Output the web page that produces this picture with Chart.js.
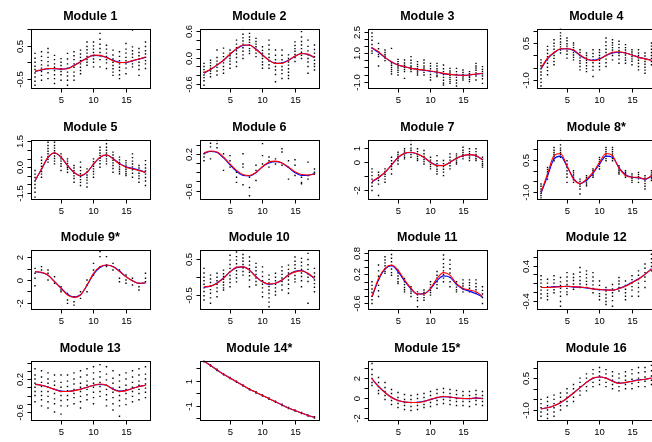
<!DOCTYPE html>
<html><head><meta charset="utf-8">
<script src="https://cdn.jsdelivr.net/npm/chart.js@4/dist/chart.umd.min.js"></script>
<style>
html,body{margin:0;padding:0;background:#fff;overflow:hidden;}
#wrap{position:relative;width:652px;height:442px;overflow:hidden;background:#fff;}
#wrap canvas{position:absolute;}
</style></head><body><div id="wrap"></div>
<script>
// ---------- data ----------
const xValues = [1,2,3,4,5,6,7,8,9,10,11,12,13,14,15,16,17,18];
const xTicks = [5,10,15];
const titles = ["Module 1","Module 2","Module 3","Module 4","Module 5","Module 6","Module 7","Module 8*",
  "Module 9*","Module 10","Module 11","Module 12","Module 13","Module 14*","Module 15*","Module 16"];

const yLimits = [[-0.77,1.03],[-0.67,0.65],[-1.41,2.72],[-1.31,1.1],[-1.81,1.6],[-0.77,0.51],[-2.57,1.61],[-1.29,1.45],
  [-2.51,2.69],[-0.88,0.78],[-0.74,0.89],[-0.58,0.77],[-0.78,0.65],[-2.12,2.6],[-2.2,3.7],[-1.45,1.33]];

const yTicks = [[-0.5,0,0.5,1],[-0.6,-0.4,-0.2,0,0.2,0.4,0.6],[-1,-0.5,0,0.5,1,1.5,2,2.5],[-1,-0.5,0,0.5,1],
  [-1.5,-1,-0.5,0,0.5,1,1.5],[-0.6,-0.4,-0.2,0,0.2,0.4],[-2,-1,0,1],[-1,-0.5,0,0.5,1],
  [-2,-1,0,1,2],[-0.5,0,0.5],[-0.6,-0.4,-0.2,0,0.2,0.4,0.6,0.8],[-0.4,-0.2,0,0.2,0.4,0.6],
  [-0.6,-0.4,-0.2,0,0.2,0.4,0.6],[-2,-1,0,1,2],[-2,-1,0,1,2,3],[-1,-0.5,0,0.5,1]];
const yTickLabels = [["-0.5","","0.5",""],["-0.6","","","0.0","","","0.6"],["-1.0","","","","1.0","","","2.5"],["-1.0","","","0.5",""],
  ["-1.5","","","0.0","","","1.5"],["-0.6","","","","0.2",""],["-2","","0","1"],["-1.0","","","0.5",""],
  ["-2","","0","","2"],["-0.5","","0.5"],["-0.6","","","","0.2","","","0.8"],["-0.4","","","","0.4",""],
  ["-0.6","","","","0.2","",""],["","-1","","1",""],["-2","","0","","2",""],["-1.0","","","0.5",""]];

// module 1
const m1Pts = [[0.27,0.12,0.0,-0.12,-0.22,-0.33,-0.45,-0.58,-0.70],[0.32,0.18,0.05,-0.08,-0.18,-0.28,-0.4,-0.55],[0.42,0.3,0.15,0.02,-0.1,-0.2,-0.32,-0.5],
 [0.21,0.08,-0.05,-0.15,-0.25,-0.38,-0.5,-0.65],[0.11,0.0,-0.1,-0.2,-0.28,-0.38,-0.55],[0.27,0.1,-0.05,-0.18,-0.3,-0.42,-0.55,-0.7],
 [0.32,0.2,0.08,-0.05,-0.15,-0.3,-0.42,-0.55],[0.37,0.25,0.15,0.05,-0.05,-0.15,-0.25,-0.35],[0.62,0.48,0.38,0.28,0.18,0.08,0.0,-0.09],
 [0.62,0.5,0.4,0.3,0.2,0.1,0.0,-0.14],[0.88,0.7,0.55,0.42,0.3,0.2,0.08,-0.14],[0.52,0.4,0.28,0.18,0.08,-0.02,-0.19],
 [0.37,0.22,0.1,0.0,-0.1,-0.2,-0.3,-0.4],[0.32,0.18,0.05,-0.05,-0.15,-0.25,-0.38,-0.5],[0.57,0.4,0.28,0.15,0.05,-0.05,-0.18,-0.35],
 [0.98,0.47,0.35,0.25,0.15,0.05,-0.05,-0.14],[0.42,0.3,0.2,0.1,0.0,-0.1,-0.22,-0.4],[0.62,0.48,0.35,0.25,0.15,0.05,-0.05,-0.19]];
const m1Red = [-0.27,-0.23,-0.19,-0.19,-0.21,-0.2,-0.1,0.01,0.13,0.22,0.21,0.14,0.05,-0.01,0.0,0.05,0.1,0.16];
const m1Blue = [-0.28,-0.24,-0.2,-0.2,-0.21,-0.19,-0.1,0.02,0.13,0.21,0.2,0.15,0.06,0.0,-0.01,0.04,0.1,0.15];

// module 2
const m2Pts = [[-0.13,-0.2,-0.27,-0.33,-0.39,-0.45,-0.52,-0.62],[-0.06,-0.12,-0.18,-0.24,-0.3,-0.36,-0.43],[0.17,0.0,-0.08,-0.15,-0.22,-0.3,-0.39],
 [0.21,0.1,0.02,-0.06,-0.12,-0.2,-0.27,-0.35],[0.17,0.1,0.04,-0.02,-0.08,-0.15,-0.24],[0.39,0.3,0.22,0.15,0.08,0.0,-0.1,-0.2],
 [0.63,0.52,0.44,0.37,0.3,0.22,0.14,0.06,-0.02],[0.54,0.46,0.4,0.34,0.28,0.2,0.15,0.09],[0.43,0.36,0.3,0.24,0.17,0.1,0.02],
 [0.24,0.16,0.1,0.04,-0.02,-0.1,-0.16,-0.24],[0.39,0.28,0.18,0.08,0.0,-0.08,-0.16,-0.24],[0.17,0.05,-0.05,-0.12,-0.2,-0.28,-0.38,-0.54],
 [0.17,0.05,-0.05,-0.12,-0.2,-0.28,-0.36,-0.47],[0.06,-0.02,-0.1,-0.17,-0.25,-0.33,-0.4,-0.47],[0.35,0.27,0.2,0.14,0.07,0.0,-0.09],
 [0.58,0.46,0.36,0.28,0.2,0.12,0.05,-0.02],[0.39,0.25,0.15,0.06,-0.02,-0.1,-0.2,-0.35],[0.28,0.18,0.1,0.02,-0.06,-0.14,-0.2,-0.28]];
const m2Red = [-0.34,-0.26,-0.17,-0.06,0.08,0.2,0.28,0.28,0.18,0.06,-0.06,-0.13,-0.13,-0.06,0.03,0.09,0.08,0.0];
const m2Blue = [-0.35,-0.27,-0.17,-0.06,0.07,0.19,0.27,0.28,0.19,0.06,-0.06,-0.13,-0.12,-0.06,0.03,0.09,0.07,0.0];

// module 3
const m3Pts = [[2.66,2.4,2.15,1.9,1.6,1.35,1.15,0.98],[1.68,1.3,1.1,0.9,0.75,0.1],[1.21,1.05,0.9,0.78,0.65,0.47],
 [1.33,0.3,0.15,0.0,-0.15,-0.3,-0.46],[0.56,0.4,0.25,0.1,-0.05,-0.2,-0.35,-0.53],[0.52,0.3,0.15,0.0,-0.15,-0.3,-0.77],
 [0.75,0.5,0.3,0.1,0.0,-0.15,-0.3],[0.4,0.2,0.05,-0.1,-0.25,-0.4,-0.53],[0.52,0.3,0.1,-0.05,-0.2,-0.35,-0.53],
 [0.28,0.1,-0.1,-0.3,-0.5,-0.7,-0.88],[0.28,0.1,-0.1,-0.25,-0.4,-0.55,-0.65],[0.17,-0.1,-0.3,-0.5,-0.7,-0.9,-1.1,-1.23],
 [-0.07,-0.25,-0.4,-0.55,-0.7,-0.85,-1.0,-1.12],[-0.07,-0.3,-0.5,-0.7,-0.9,-1.1,-1.3],[-0.18,-0.35,-0.5,-0.6,-0.75,-0.88],
 [-0.3,-0.45,-0.6,-0.7,-0.85,-1.0],[0.28,0.1,-0.05,-0.2,-0.4,-0.6,-0.88],[0.05,-0.15,-0.3,-0.45,-0.6,-0.8,-1.12]];
const m3Red = [1.38,1.1,0.7,0.4,0.17,0.05,-0.07,-0.14,-0.18,-0.25,-0.32,-0.42,-0.49,-0.53,-0.56,-0.53,-0.46,-0.42];
const m3Blue = [1.35,1.05,0.68,0.38,0.16,0.04,-0.06,-0.14,-0.2,-0.27,-0.34,-0.44,-0.5,-0.54,-0.56,-0.54,-0.48,-0.43];

// module 4
const m4Pts = [[-0.18,-0.3,-0.42,-0.55,-0.68,-0.8,-0.95,-1.1,-1.25],[0.37,0.22,0.08,-0.05,-0.18,-0.32,-0.48,-0.62,-0.79],
 [0.64,0.5,0.38,0.25,0.12,0.0,-0.12,-0.25,-0.38],[1.08,0.92,0.8,0.68,0.55,0.45,0.35,0.22,0.1],[0.71,0.6,0.48,0.38,0.28,0.18,0.05,-0.11],
 [0.51,0.42,0.32,0.22,0.12,0.02,-0.08,-0.18],[0.23,0.12,0.0,-0.1,-0.22,-0.32,-0.45,-0.59],[0.1,0.0,-0.1,-0.2,-0.3,-0.42,-0.54,-0.66],
 [0.23,0.08,-0.05,-0.18,-0.3,-0.45,-0.6,-0.86],[0.23,0.12,0.0,-0.1,-0.2,-0.32,-0.45,-0.59],[0.71,0.55,0.4,0.25,0.12,0.0,-0.15,-0.3,-0.45],
 [0.64,0.52,0.42,0.32,0.22,0.12,0.0,-0.18],[0.58,0.45,0.32,0.2,0.1,0.0,-0.15,-0.32],[0.44,0.32,0.22,0.12,0.02,-0.1,-0.2,-0.32],
 [0.23,0.14,0.05,-0.05,-0.14,-0.24,-0.38],[0.23,0.1,0.0,-0.1,-0.2,-0.32,-0.45,-0.59],[0.1,-0.02,-0.14,-0.25,-0.36,-0.48,-0.6,-0.73],
 [0.51,0.38,0.25,0.12,0.0,-0.12,-0.25,-0.38]];
const m4Red = [-0.52,-0.11,0.12,0.27,0.27,0.22,0.02,-0.15,-0.22,-0.16,0.0,0.13,0.15,0.1,0.02,-0.08,-0.14,-0.2];
const m4Blue = [-0.55,-0.14,0.1,0.26,0.27,0.2,0.0,-0.15,-0.2,-0.14,0.0,0.1,0.13,0.1,0.02,-0.07,-0.13,-0.2];

// module 5
const m5Pts = [[-0.19,-0.4,-0.6,-0.8,-1.0,-1.2,-1.45,-1.73],[0.58,0.4,0.22,0.05,-0.1,-0.25,-0.4,-0.58],[1.44,1.25,1.08,0.92,0.78,0.62,0.45,0.29],
 [1.44,1.25,1.1,0.95,0.8,0.65,0.5,0.35,0.19],[0.77,0.62,0.48,0.35,0.2,0.05,-0.19],[0.48,0.35,0.22,0.1,0.0,-0.12,-0.29],
 [0.1,-0.05,-0.2,-0.35,-0.5,-0.65,-0.87],[0.29,0.0,-0.2,-0.38,-0.55,-0.72,-0.88,-1.06],[-0.1,-0.28,-0.45,-0.6,-0.75,-0.92,-1.15],
 [0.48,0.32,0.18,0.05,-0.1,-0.25,-0.4,-0.58],[1.15,0.98,0.82,0.68,0.52,0.38,0.2,0.0],[1.58,1.35,1.15,0.98,0.82,0.65,0.48,0.35,0.19],
 [0.87,0.7,0.55,0.4,0.25,0.1,-0.08,-0.29],[0.58,0.42,0.28,0.15,0.02,-0.12,-0.25,-0.38],[0.38,0.25,0.12,0.0,-0.12,-0.25,-0.38,-0.48],
 [0.77,0.55,0.35,0.18,0.02,-0.15,-0.35,-0.58],[0.1,-0.05,-0.2,-0.35,-0.5,-0.65,-0.87],[0.38,0.15,-0.05,-0.22,-0.4,-0.6,-0.8,-1.06]];
const m5Red = [-0.77,-0.1,0.58,0.83,0.58,0.1,-0.29,-0.48,-0.29,0.19,0.58,0.71,0.48,0.19,0.0,-0.1,-0.19,-0.29];
const m5Blue = [-0.8,-0.12,0.55,0.82,0.58,0.1,-0.3,-0.5,-0.3,0.17,0.55,0.7,0.5,0.22,0.02,-0.06,-0.17,-0.3];

// module 6
const m6Pts = [[0.2,0.13,0.05],[0.43,0.35,0.09],[0.49,0.42,0.33],[0.2,-0.16],[0.16,0.05,-0.09],[-0.2,-0.31,-0.42],
 [0.2,-0.02,-0.09,-0.47],[-0.31,-0.53,-0.71],[-0.05,-0.16,-0.38],[0.42,0.16,-0.02],[0.13,0.05,-0.09],[0.09,-0.02],
 [0.31,0.24,-0.05],[0.05,-0.09,-0.35],[0.07,-0.05,-0.27],[-0.31,-0.42,-0.45],[0.02,-0.27,-0.35],[-0.13,-0.2,-0.24]];
const m6Red = [0.22,0.26,0.24,0.13,-0.02,-0.16,-0.25,-0.27,-0.2,-0.08,0.02,0.04,0.0,-0.09,-0.19,-0.25,-0.26,-0.24];
const m6Blue = [0.2,0.25,0.23,0.11,-0.04,-0.18,-0.27,-0.28,-0.21,-0.08,0.0,0.03,0.0,-0.1,-0.21,-0.27,-0.27,-0.23];

// module 7
const m7Pts = [[-0.47,-0.7,-0.95,-1.2,-1.45,-1.7,-2.0],[-0.71,-0.9,-1.1,-1.3,-1.55,-2.36],[-0.47,-0.65,-0.85,-1.0,-1.2,-1.42],
 [0.35,0.1,-0.1,-0.3,-0.5,-0.83],[0.71,0.55,0.4,0.25,0.1,-0.12],[0.95,0.8,0.65,0.5,0.35,0.24],
 [1.54,1.25,1.0,0.85,0.7,0.55,0.35],[0.95,0.75,0.55,0.4,0.25,0.12],[0.83,0.6,0.4,0.2,0.05,-0.12],
 [0.35,0.15,0.0,-0.15,-0.3,-0.47],[0.47,0.1,-0.1,-0.3,-0.5,-0.65,-0.83],[0.12,-0.1,-0.3,-0.5,-0.7,-0.95],
 [0.59,0.35,0.15,-0.05,-0.25,-0.47],[0.59,0.45,0.3,0.15,0.0,-0.12],[1.06,0.85,0.7,0.55,0.4,0.24],
 [0.95,0.75,0.6,0.45,0.3,0.12],[0.95,0.75,0.55,0.4,0.25,0.12],[0.35,0.2,0.05,-0.1,-0.22,-0.35]];
const m7Red = [-1.35,-1.06,-0.71,-0.19,0.35,0.64,0.71,0.59,0.35,0.0,-0.24,-0.24,0.0,0.28,0.47,0.54,0.47,0.17];
const m7Blue = [-1.4,-1.1,-0.72,-0.2,0.33,0.62,0.69,0.58,0.33,0.0,-0.22,-0.23,0.0,0.27,0.46,0.53,0.46,0.18];

// module 8*
const m8Pts = [[-0.62,-0.72,-0.85,-0.95,-1.05,-1.15,-1.27],[0.15,0.05,-0.05,-0.15,-0.25,-0.39],[1.08,0.95,0.85,0.75,0.65,0.55,0.46],
 [1.42,1.2,1.05,0.95,0.85,0.75,0.62],[0.46,0.3,0.15,0.0,-0.15,-0.3,-0.54],[0.0,-0.1,-0.2,-0.3,-0.42,-0.54],
 [-0.39,-0.5,-0.62,-0.72,-0.85,-1.08],[-0.23,-0.33,-0.43,-0.53,-0.62,-0.7],[0.08,0.0,-0.08,-0.16,-0.23,-0.31],
 [0.62,0.52,0.42,0.32,0.2,0.08],[1.08,0.98,0.88,0.78,0.68,0.56,0.46],[1.08,0.98,0.88,0.78,0.68,0.56,0.46],
 [0.23,0.15,0.08,0.0,-0.08,-0.15],[0.0,-0.08,-0.15,-0.23,-0.31],[-0.15,-0.25,-0.35,-0.45,-0.54],
 [-0.08,-0.18,-0.28,-0.38,-0.54],[-0.23,-0.35,-0.48,-0.6,-0.72,-0.85],[0.0,-0.1,-0.2,-0.3,-0.38,-0.46]];
const m8Red = [-1.0,-0.15,0.7,0.8,0.23,-0.39,-0.59,-0.39,-0.08,0.39,0.8,0.7,0.12,-0.22,-0.3,-0.3,-0.39,-0.23];
const m8Blue = [-1.05,-0.25,0.55,0.68,0.2,-0.35,-0.6,-0.45,-0.12,0.3,0.68,0.62,0.15,-0.18,-0.3,-0.33,-0.4,-0.25];

// module 9*
const m9Pts = [[1.03,0.59,0.15,-0.5],[1.18,0.88,0.65],[0.88,0.59,0.0],[0.29,-0.29],[-0.59,-0.88,-1.03],[-1.18,-1.76,-2.06],
 [-1.47,-1.91,-2.21],[-1.03,-1.62],[0.0,-0.44,-1.03],[1.47,0.88,0.44],[2.5,2.06,1.18],[2.06,1.32,1.18],
 [1.47,1.18,0.88],[0.88,0.15,-0.15],[0.44,0.0,-0.29],[0.15,-0.44],[-0.29,-0.59,-0.88],[0.59,0.15,-0.15]];
const m9Red = [0.74,0.68,0.44,-0.15,-0.74,-1.32,-1.53,-1.32,-0.44,0.59,1.18,1.32,1.18,0.74,0.29,-0.09,-0.29,-0.24];
const m9Blue = [0.72,0.66,0.42,-0.12,-0.7,-1.25,-1.5,-1.3,-0.48,0.5,1.1,1.3,1.2,0.8,0.3,-0.05,-0.3,-0.25];

// module 10
const m10Pts = [[0.25,0.12,0.0,-0.1,-0.2,-0.3,-0.4,-0.52,-0.64],[0.06,-0.05,-0.15,-0.25,-0.35,-0.45,-0.58,-0.73],[0.11,0.0,-0.1,-0.2,-0.3,-0.4,-0.55],
 [0.2,0.1,0.02,-0.06,-0.14,-0.22,-0.3,-0.36],[0.62,0.48,0.36,0.25,0.15,0.05,-0.05,-0.15,-0.27],[0.71,0.58,0.48,0.38,0.28,0.18,0.08,-0.02,-0.13],
 [0.76,0.64,0.54,0.45,0.36,0.26,0.16,0.06],[0.57,0.45,0.34,0.24,0.14,0.04,-0.08,-0.27],[0.39,0.28,0.18,0.08,-0.02,-0.12,-0.22],
 [0.29,0.15,0.02,-0.1,-0.2,-0.3,-0.42,-0.55],[0.06,-0.06,-0.16,-0.26,-0.36,-0.46,-0.58,-0.7,-0.83],[0.11,0.0,-0.1,-0.2,-0.3,-0.4,-0.5],
 [0.29,0.18,0.08,-0.02,-0.12,-0.22,-0.36],[0.34,0.22,0.12,0.02,-0.08,-0.2,-0.32,-0.45],[0.57,0.45,0.35,0.25,0.15,0.05,-0.05,-0.13],
 [0.53,0.42,0.32,0.22,0.12,0.02,-0.1,-0.27],[0.67,0.5,0.35,0.22,0.1,0.0,-0.12,-0.73],[0.25,0.12,0.02,-0.08,-0.18,-0.28,-0.41]];
const m10Red = [-0.27,-0.25,-0.17,-0.03,0.15,0.28,0.29,0.2,0.01,-0.13,-0.19,-0.17,-0.08,0.06,0.15,0.18,0.11,-0.03];
const m10Blue = [-0.28,-0.25,-0.16,-0.02,0.15,0.27,0.29,0.2,0.02,-0.13,-0.2,-0.17,-0.08,0.07,0.17,0.19,0.1,-0.03];

// module 11
const m11Pts = [[0.0,-0.1,-0.2,-0.3,-0.4,-0.5,-0.6],[0.46,0.3,0.15,0.05,-0.1,-0.25,-0.41],[0.69,0.6,0.52,0.44,0.36,0.28,0.23],
 [0.87,0.75,0.65,0.55,0.45,0.35,0.25,0.18],[0.32,0.24,0.16,0.08,0.0,-0.05],[0.09,0.0,-0.08,-0.16,-0.22,-0.28],
 [-0.14,-0.2,-0.26,-0.32,-0.41],[-0.28,-0.36,-0.44,-0.52,-0.69],[-0.23,-0.3,-0.37,-0.44,-0.51],
 [0.0,-0.08,-0.16,-0.24,-0.3,-0.37],[0.28,0.18,0.1,0.0,-0.08,-0.18],[0.74,0.62,0.5,0.4,0.3,0.2,0.1,0.0],
 [0.6,0.48,0.36,0.24,0.12,0.0,-0.14],[0.0,-0.08,-0.15,-0.22,-0.28],[0.05,-0.05,-0.12,-0.2,-0.28],
 [0.05,-0.03,-0.1,-0.18,-0.28],[0.05,-0.05,-0.14,-0.22,-0.32],[-0.14,-0.24,-0.34,-0.44,-0.6]];
const m11Red = [-0.41,0.09,0.37,0.46,0.32,0.05,-0.18,-0.34,-0.34,-0.18,0.09,0.25,0.18,-0.05,-0.18,-0.23,-0.28,-0.4];
const m11Blue = [-0.42,0.05,0.35,0.44,0.28,0.02,-0.2,-0.34,-0.33,-0.2,0.03,0.16,0.12,-0.07,-0.2,-0.26,-0.33,-0.42];

// module 12
const m12Pts = [[0.17,0.08,0.0,-0.08,-0.16,-0.25,-0.34],[0.09,0.0,-0.08,-0.16,-0.24,-0.3,-0.38],[0.17,0.08,0.0,-0.08,-0.15,-0.22],
 [0.13,0.03,-0.05,-0.12,-0.2,-0.3,-0.42,-0.53],[0.24,0.14,0.05,-0.03,-0.12,-0.2,-0.26],[0.21,0.13,0.06,-0.02,-0.08,-0.14],
 [0.36,0.25,0.15,0.06,-0.02,-0.1],[0.28,0.2,0.12,0.04,-0.03,-0.1],[0.24,0.14,0.05,-0.04,-0.12,-0.22],
 [0.05,-0.05,-0.15,-0.24,-0.3,-0.38],[-0.1,-0.18,-0.26,-0.34,-0.42,-0.49],[-0.03,-0.13,-0.22,-0.3,-0.4,-0.53],
 [0.13,0.05,-0.02,-0.1,-0.18],[0.05,-0.05,-0.14,-0.22,-0.3,-0.38],[0.17,0.08,0.0,-0.08,-0.16,-0.3],
 [0.28,0.18,0.08,0.0,-0.1,-0.2,-0.3],[0.44,0.34,0.24,0.14,0.04,-0.1],[0.75,0.66,0.56,0.47,0.38,0.28]];
const m12Red = [-0.1,-0.1,-0.09,-0.08,-0.07,-0.08,-0.09,-0.1,-0.13,-0.14,-0.16,-0.16,-0.13,-0.07,0.01,0.09,0.2,0.32];
const m12Blue = [-0.1,-0.1,-0.08,-0.08,-0.07,-0.09,-0.09,-0.11,-0.13,-0.15,-0.15,-0.16,-0.12,-0.06,0.02,0.1,0.2,0.33];

// module 13
const m13Pts = [[0.45,0.3,0.2,0.1,0.0,-0.1,-0.2,-0.35],[0.4,0.25,0.12,0.02,-0.1,-0.2,-0.3,-0.45],[0.35,0.2,0.1,0.0,-0.1,-0.22,-0.35,-0.5],
 [0.3,0.15,0.05,-0.05,-0.15,-0.28,-0.4,-0.6],[0.3,0.12,0.0,-0.1,-0.2,-0.32,-0.45,-0.65],[0.3,0.15,0.02,-0.08,-0.2,-0.3,-0.45],
 [0.35,0.2,0.08,-0.05,-0.15,-0.25,-0.4],[0.4,0.25,0.1,0.0,-0.1,-0.22,-0.35,-0.5],[0.45,0.3,0.15,0.05,-0.05,-0.18,-0.3],
 [0.5,0.35,0.2,0.1,0.0,-0.12,-0.25,-0.4],[0.55,0.38,0.25,0.12,0.02,-0.1,-0.22],[0.5,0.32,0.18,0.05,-0.05,-0.18,-0.3,-0.45],
 [0.4,0.22,0.1,-0.02,-0.12,-0.25,-0.4,-0.55],[0.3,0.15,0.0,-0.1,-0.2,-0.32,-0.45,-0.7],[0.35,0.2,0.05,-0.05,-0.15,-0.28,-0.42],
 [0.4,0.25,0.12,0.0,-0.1,-0.22,-0.35],[0.45,0.3,0.15,0.05,-0.05,-0.15,-0.3],[0.5,0.32,0.2,0.08,-0.02,-0.12,-0.25]];
const m13Red = [0.08,0.05,0.0,-0.05,-0.1,-0.1,-0.08,-0.05,0.0,0.05,0.08,0.05,-0.05,-0.1,-0.08,-0.03,0.02,0.05];
const m13Blue = [0.07,0.05,0.01,-0.05,-0.09,-0.1,-0.08,-0.04,0.0,0.05,0.07,0.05,-0.04,-0.09,-0.08,-0.03,0.02,0.05];

// module 14*
const m14Pts = [[2.6,2.5],[2.25,2.15],[1.9,1.8],[1.55,1.45],[1.25,1.15],[0.95,0.85],[0.65,0.55],[0.35,0.25],[0.1,0.0],
 [-0.15,-0.25],[-0.4,-0.5],[-0.65,-0.75],[-0.9,-1.0],[-1.15,-1.25],[-1.35,-1.45],[-1.55,-1.65],[-1.75,-1.85],[-1.9,-2.0]];
const m14Red = [2.55,2.2,1.85,1.5,1.2,0.9,0.6,0.3,0.05,-0.2,-0.45,-0.7,-0.95,-1.2,-1.4,-1.6,-1.8,-1.95];
const m14Blue = [2.55,2.2,1.84,1.5,1.2,0.9,0.6,0.3,0.05,-0.2,-0.45,-0.7,-0.95,-1.2,-1.4,-1.6,-1.8,-1.95];

// module 15*
const m15Pts = [[3.4,2.8,2.3,1.9,1.5,1.2],[2.0,1.5,1.1,0.7,0.4],[1.5,1.0,0.6,0.2,-0.2],[0.8,0.4,0.0,-0.3,-0.7],[0.5,0.0,-0.3,-0.6,-1.0],
 [0.3,-0.2,-0.5,-0.8,-1.2],[0.2,-0.2,-0.5,-0.9,-1.3],[0.3,-0.1,-0.5,-0.8,-1.2],[0.4,0.0,-0.4,-0.7,-1.0],[0.6,0.2,-0.2,-0.5,-0.9],
 [0.8,0.4,0.0,-0.3,-0.7],[0.9,0.5,0.1,-0.2,-0.6],[0.8,0.4,0.0,-0.3,-0.7],[0.7,0.3,-0.1,-0.4,-0.8],[0.6,0.2,-0.1,-0.4,-0.8],
 [0.6,0.2,-0.1,-0.4,-0.9],[0.7,0.3,0.0,-0.3,-0.7],[0.6,0.2,-0.1,-0.4,-0.8]];
const m15Red = [1.9,1.1,0.5,0.0,-0.3,-0.45,-0.5,-0.5,-0.4,-0.2,0.0,0.1,0.05,-0.05,-0.1,-0.1,-0.05,-0.1];
const m15Blue = [1.85,1.1,0.5,0.02,-0.3,-0.45,-0.5,-0.48,-0.38,-0.2,-0.02,0.08,0.05,-0.05,-0.1,-0.12,-0.06,-0.1];

// module 16
const m16Pts = [[-0.5,-0.7,-0.9,-1.1,-1.3],[-0.4,-0.6,-0.8,-1.0,-1.2,-1.4],[-0.3,-0.5,-0.7,-0.9,-1.1,-1.3],[-0.2,-0.4,-0.6,-0.8,-1.0],
 [0.0,-0.2,-0.4,-0.6,-0.8],[0.2,0.0,-0.2,-0.4,-0.6],[0.5,0.3,0.1,-0.1,-0.3],[0.7,0.5,0.3,0.1,-0.1],[0.9,0.7,0.5,0.3,0.1],
 [1.0,0.8,0.6,0.4,0.2],[0.9,0.7,0.5,0.3,0.1],[0.8,0.6,0.4,0.2,0.0],[0.7,0.5,0.3,0.1,-0.1],[0.8,0.6,0.4,0.2,0.0],
 [0.9,0.7,0.45,0.25,0.0],[1.0,0.75,0.5,0.3,0.1],[1.0,0.8,0.55,0.35,0.1],[1.1,0.85,0.6,0.4,0.2]];
const m16Red = [-0.95,-0.9,-0.8,-0.65,-0.45,-0.2,0.05,0.3,0.5,0.55,0.5,0.35,0.25,0.3,0.35,0.4,0.45,0.5];
const m16Blue = [-0.95,-0.9,-0.8,-0.66,-0.45,-0.2,0.05,0.3,0.48,0.55,0.5,0.36,0.26,0.28,0.35,0.42,0.45,0.5];

const pointSets = [m1Pts,m2Pts,m3Pts,m4Pts,m5Pts,m6Pts,m7Pts,m8Pts,m9Pts,m10Pts,m11Pts,m12Pts,m13Pts,m14Pts,m15Pts,m16Pts];
const redSets = [m1Red,m2Red,m3Red,m4Red,m5Red,m6Red,m7Red,m8Red,m9Red,m10Red,m11Red,m12Red,m13Red,m14Red,m15Red,m16Red];
const blueSets = [m1Blue,m2Blue,m3Blue,m4Blue,m5Blue,m6Blue,m7Blue,m8Blue,m9Blue,m10Blue,m11Blue,m12Blue,m13Blue,m14Blue,m15Blue,m16Blue];

// ---------- drawing ----------
const FONT = "'Liberation Sans', Arial, Helvetica, sans-serif";
const CW = 169, CH = 111;
const wrap = document.getElementById('wrap');

function rAxesPlugin(idx) {
  return {
    id: 'rAxes' + idx,
    afterDraw(chart) {
      const ctx = chart.ctx, a = chart.chartArea;
      const xs = chart.scales.x, ys = chart.scales.y;
      ctx.save();
      ctx.strokeStyle = '#000';
      ctx.fillStyle = '#000';
      ctx.lineWidth = 1;
      const L = Math.round(a.left) + 0.5, R = Math.round(a.right) + 0.5;
      const T = Math.round(a.top) + 0.5, B = Math.round(a.bottom) + 0.5;
      ctx.strokeRect(L, T, R - L, B - T);
      ctx.beginPath();
      const xp = xTicks.map(v => Math.round(xs.getPixelForValue(v)) + 0.5);
      ctx.moveTo(xp[0], B); ctx.lineTo(xp[xp.length - 1], B);
      xp.forEach(p => { ctx.moveTo(p, B); ctx.lineTo(p, B + 4); });
      ctx.stroke();
      ctx.font = '9.5px ' + FONT;
      ctx.textAlign = 'center';
      ctx.textBaseline = 'middle';
      xTicks.forEach((v, i) => ctx.fillText(String(v), xp[i], B + 11.5));
      const lim = yLimits[idx];
      const ticks = yTicks[idx], labs = yTickLabels[idx];
      const inside = ticks.map((v, i) => i).filter(i => ticks[i] >= lim[0] && ticks[i] <= lim[1]);
      const yp = inside.map(i => Math.round(ys.getPixelForValue(ticks[i])) + 0.5);
      ctx.beginPath();
      ctx.moveTo(L, yp[0]); ctx.lineTo(L, yp[yp.length - 1]);
      yp.forEach(p => { ctx.moveTo(L, p); ctx.lineTo(L - 4, p); });
      ctx.stroke();
      inside.forEach((i, k) => {
        if (!labs[i]) return;
        ctx.save();
        ctx.translate(L - 11.5, yp[k]);
        ctx.rotate(-Math.PI / 2);
        ctx.fillText(labs[i], 0, 0);
        ctx.restore();
      });
      ctx.font = 'bold 12.5px ' + FONT;
      ctx.fillText(titles[idx], (a.left + a.right) / 2, 16.2);
      ctx.restore();
    }
  };
}

for (let idx = 0; idx < 16; idx++) {
  const row = Math.floor(idx / 4), col = idx % 4;
  const cv = document.createElement('canvas');
  cv.width = CW; cv.height = CH;
  cv.style.width = CW + 'px'; cv.style.height = CH + 'px';
  cv.style.left = Math.round(col * 168.5) + 'px';
  cv.style.top = Math.round(row * 110.5) + 'px';
  wrap.appendChild(cv);

  const pts = [];
  pointSets[idx].forEach((c, i) => c.forEach(v => pts.push({ x: xValues[i], y: v })));
  const red = redSets[idx].map((v, i) => ({ x: xValues[i], y: v }));
  const blue = blueSets[idx].map((v, i) => ({ x: xValues[i], y: v }));

  new Chart(cv, {
    type: 'scatter',
    data: {
      datasets: [
        { type: 'scatter', data: pts, pointStyle: 'rect', pointRadius: 1.0, pointBorderWidth: 0,
          pointBackgroundColor: '#000', backgroundColor: '#000', order: 3 },
        { type: 'line', data: blue, borderColor: '#0000ff', borderWidth: 1.1, pointRadius: 0,
          cubicInterpolationMode: 'monotone', fill: false, order: 2 },
        { type: 'line', data: red, borderColor: '#ff0000', borderWidth: 1.1, pointRadius: 0,
          cubicInterpolationMode: 'monotone', fill: false, order: 1 }
      ]
    },
    options: {
      responsive: false, animation: false, devicePixelRatio: 1,
      layout: { padding: { left: 30.6, right: 19.1, top: 28.5, bottom: 23.5 } },
      plugins: { legend: { display: false }, tooltip: { enabled: false }, title: { display: false } },
      scales: {
        x: { type: 'linear', min: 0.32, max: 18.68, display: false },
        y: { type: 'linear', min: yLimits[idx][0], max: yLimits[idx][1], display: false }
      }
    },
    plugins: [rAxesPlugin(idx)]
  });
}
</script>
</body></html>
